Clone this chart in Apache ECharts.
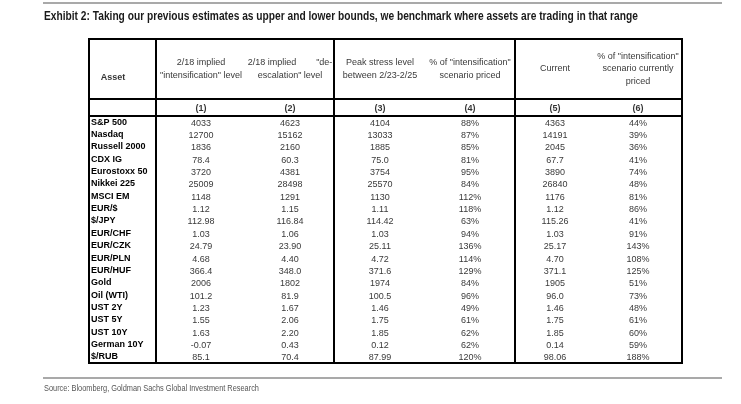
<!DOCTYPE html>
<html><head><meta charset="utf-8">
<script src="https://cdn.jsdelivr.net/npm/echarts@6/dist/echarts.min.js"></script>
<style>html,body{margin:0;padding:0;background:#fff}#c{width:741px;height:404px}</style>
</head><body><div id="c"></div>
<script>
// ---------- data ----------
const assets = ['S&P 500','Nasdaq','Russell 2000','CDX IG','Eurostoxx 50','Nikkei 225','MSCI EM','EUR/$','$/JPY','EUR/CHF','EUR/CZK','EUR/PLN','EUR/HUF','Gold','Oil (WTI)','UST 2Y','UST 5Y','UST 10Y','German 10Y','$/RUB'];
const intensificationLevel = ['4033','12700','1836','78.4','3720','25009','1148','1.12','112.98','1.03','24.79','4.68','366.4','2006','101.2','1.23','1.55','1.63','-0.07','85.1'];
const deescalationLevel = ['4623','15162','2160','60.3','4381','28498','1291','1.15','116.84','1.06','23.90','4.40','348.0','1802','81.9','1.67','2.06','2.20','0.43','70.4'];
const peakStressLevel = ['4104','13033','1885','75.0','3754','25570','1130','1.11','114.42','1.03','25.11','4.72','371.6','1974','100.5','1.46','1.75','1.85','0.12','87.99'];
const pctPricedAtPeak = [88,87,85,81,95,84,112,118,63,94,136,114,129,84,96,49,61,62,62,120];
const currentLevel = ['4363','14191','2045','67.7','3890','26840','1176','1.12','115.26','1.03','25.17','4.70','371.1','1905','96.0','1.46','1.75','1.85','0.14','98.06'];
const pctPricedNow = [44,39,36,41,74,48,81,86,41,91,143,108,125,51,73,48,61,60,59,188];
const columnHeaders = ['2/18 implied\n"intensification" level','2/18 implied        "de-\nescalation" level','Peak stress level\nbetween 2/23-2/25','% of "intensification"\nscenario priced','Current','% of "intensification"\nscenario currently\npriced'];
const columnNumbers = ['(1)','(2)','(3)','(4)','(5)','(6)'];
const titleText = 'Exhibit 2: Taking our previous estimates as upper and lower bounds, we benchmark where assets are trading in that range';
const sourceText = 'Source: Bloomberg, Goldman Sachs Global Investment Research';

// ---------- layout ----------
const FONT = '"Liberation Sans", Arial, sans-serif';
const TABLE_W = 593;
const colCenters = [112, 201, 291, 381, 466, 549];
const groupLines = [67, 245, 426];
const pct = a => a.map(v => v + '%');
const bodyCols = [intensificationLevel, deescalationLevel, peakStressLevel, pct(pctPricedAtPeak), currentLevel, pct(pctPricedNow)];

const gridBase = {left: 89, width: TABLE_W, show: true, borderColor: '#000', borderWidth: 2, backgroundColor: 'transparent'};
const lbl = (extra) => Object.assign({show: true, position: 'inside', color: '#000', fontSize: 9, fontFamily: FONT, lineHeight: 12.5}, extra || {});
const markLines = {symbol: ['none','none'], silent: true, label: {show: false}, lineStyle: {color: '#000', width: 2, type: 'solid'}, data: groupLines.map(v => ({xAxis: v}))};
const hidden = {itemStyle: {color: 'rgba(0,0,0,0)'}, symbolSize: 1, silent: true};

const series = [];
series.push(Object.assign({
  type: 'scatter', xAxisIndex: 0, yAxisIndex: 0,
  data: columnHeaders.map((h, j) => ({value: [colCenters[j], 0], label: {formatter: h}}))
    .concat([{value: [24, 0], label: {formatter: 'Asset', fontWeight: 'bold', offset: [0, 9]}}]),
  label: lbl(), markLine: markLines
}, hidden));
series.push(Object.assign({
  type: 'scatter', xAxisIndex: 1, yAxisIndex: 1,
  data: columnNumbers.map((h, j) => ({value: [colCenters[j], 0], label: {formatter: h}})),
  label: lbl({fontWeight: 'bold', offset: [0, 1]}), markLine: markLines
}, hidden));
bodyCols.forEach((col, j) => {
  series.push(Object.assign({
    type: 'scatter', xAxisIndex: 2, yAxisIndex: 2,
    data: col.map((v, i) => [colCenters[j], i, v]),
    label: lbl({formatter: p => p.value[2], offset: [0, 1]}),
    markLine: j === 0 ? markLines : undefined
  }, hidden));
});

const chart = echarts.init(document.getElementById('c'), null, {renderer: 'canvas'});
chart.setOption({
  animation: false,
  backgroundColor: '#fff',
  graphic: [
    {type: 'line', shape: {x1: 43, y1: 3, x2: 722, y2: 3}, style: {stroke: '#8c8c8c', lineWidth: 1.5}, silent: true},
    {type: 'line', shape: {x1: 43, y1: 378, x2: 722, y2: 378}, style: {stroke: '#8c8c8c', lineWidth: 1.5}, silent: true},
    {type: 'text', x: 44, y: 17, scaleX: 0.85, silent: true,
     style: {text: titleText, fill: '#1a1a1a', font: 'bold 12px "Liberation Sans", Arial, sans-serif', textAlign: 'left', textVerticalAlign: 'middle'}},
    {type: 'text', x: 44, y: 389, scaleX: 0.82, silent: true,
     style: {text: sourceText, fill: '#555', font: '9px "Liberation Sans", Arial, sans-serif', textAlign: 'left', textVerticalAlign: 'middle'}}
  ],
  grid: [
    Object.assign({top: 39, height: 60}, gridBase),
    Object.assign({top: 99, height: 17}, gridBase),
    Object.assign({top: 116, height: 247}, gridBase)
  ],
  xAxis: [0, 1, 2].map(i => ({type: 'value', gridIndex: i, min: 0, max: TABLE_W, show: false})),
  yAxis: [
    {type: 'category', gridIndex: 0, data: ['header'], show: false},
    {type: 'category', gridIndex: 1, data: ['number'], show: false},
    {type: 'category', gridIndex: 2, data: assets, inverse: true,
     axisLine: {show: false}, axisTick: {show: false}, splitLine: {show: false},
     axisLabel: {inside: true, margin: 2, fontWeight: 'bold', fontSize: 9, color: '#000', fontFamily: FONT}}
  ],
  series: series
});
</script></body></html>
